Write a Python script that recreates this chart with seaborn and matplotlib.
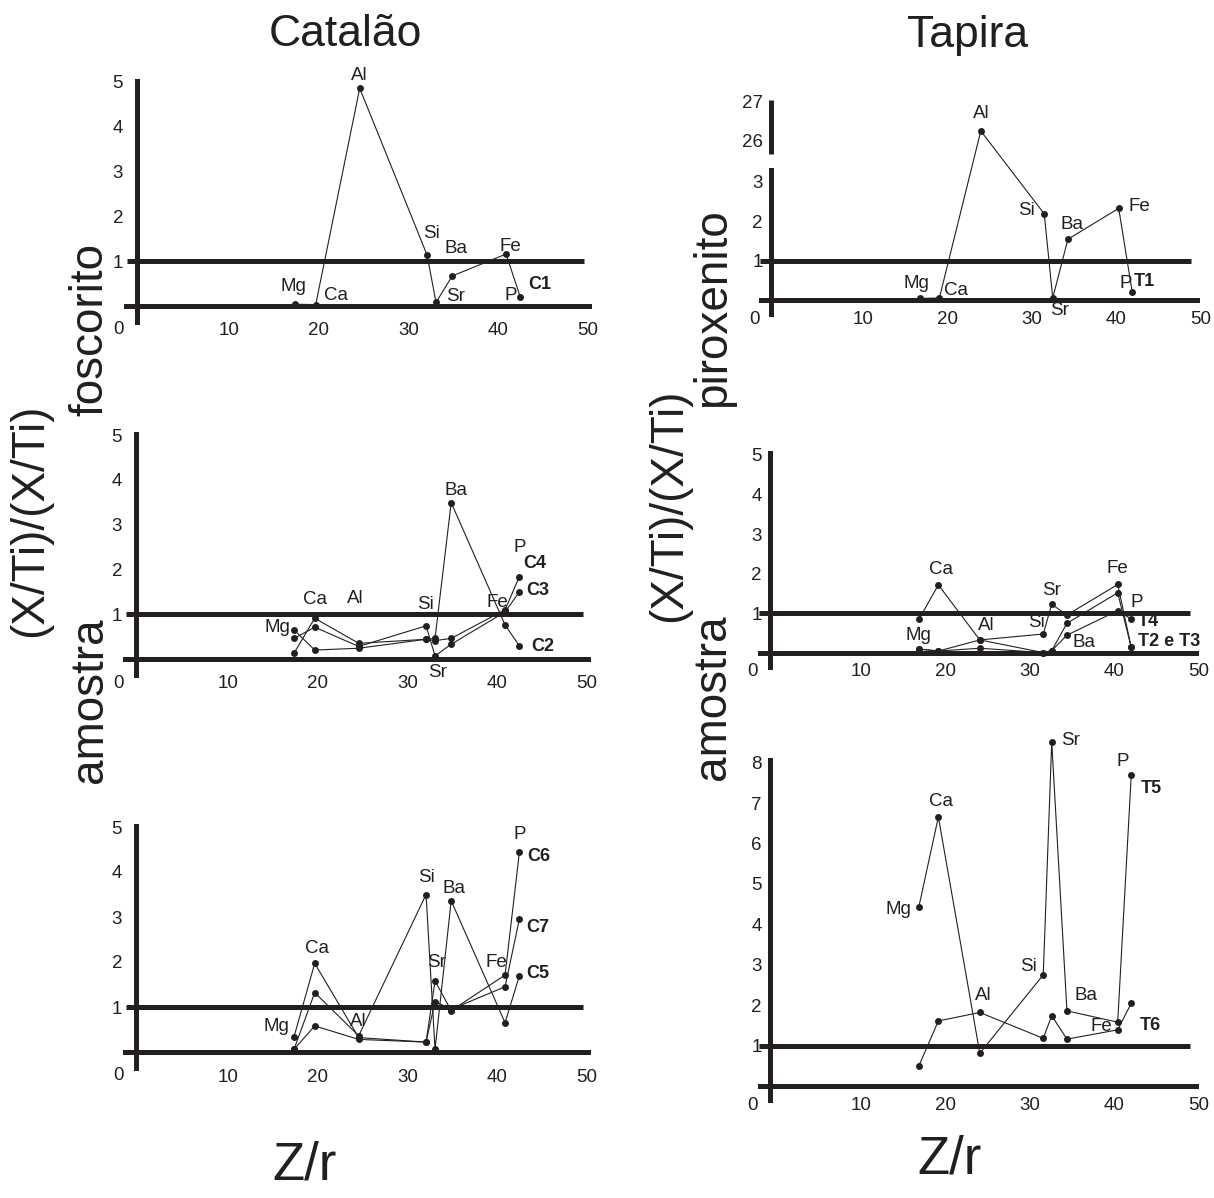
import matplotlib
matplotlib.use("Agg")
import matplotlib.pyplot as plt
import numpy as np
import pandas as pd
import seaborn as sns

# Z/r of each element (x axis)
ELEMENTS = ["Mg", "Ca", "Al", "Si", "Sr", "Ba", "Fe", "P"]
ZR = [17.6, 19.9, 24.8, 32.3, 33.3, 35.1, 41.1, 42.7]

# (X/Ti)sample / (X/Ti)rock, in element order
C1 = [0.04, 0.03, 4.86, 1.14, 0.08, 0.67, 1.16, 0.19]
C2 = [0.65, 0.20, 0.24, 0.44, 0.46, 3.49, 0.76, 0.29]
C3 = [0.46, 0.71, 0.28, 0.74, 0.07, 0.33, 1.05, 1.50]
C4 = [0.13, 0.91, 0.35, 0.44, 0.41, 0.46, 1.10, 1.84]
C5 = [0.06, 1.32, 0.36, 3.50, 0.06, 3.36, 0.65, 1.70]
C6 = [0.34, 1.97, 0.32, 0.22, 1.58, 0.92, 1.71, 4.45]
C7 = [0.06, 0.58, 0.28, 0.22, 1.12, 0.95, 1.45, 2.96]
T1 = [0.04, 0.05, 26.25, 2.18, 0.05, 1.54, 2.32, 0.20]
T2 = [0.10, 0.05, 0.33, 0.48, 1.23, 0.96, 1.73, 0.14]
T3 = [0.10, 0.05, 0.12, 0.01, 0.06, 0.75, 1.52, 0.14]
T4 = [0.85, 1.72, 0.33, 0.01, 0.06, 0.45, 1.07, 0.86]
T5 = [4.44, 6.66, 0.81, 2.75, 8.52, 1.86, 1.58, 7.69]
T6 = [0.50, 1.61, 1.82, 1.18, 1.74, 1.16, 1.39, 2.05]

XTICKS = [0, 10, 20, 30, 40, 50]
REF_LEVEL = 1

# broken y axis of the T1 panel (26-27 on top of 0-3)
BREAK_IN = [-50, 3.3, 25.67, 100]
BREAK_OUT = [-50, 3.3, 3.7, 78.03]

INK = "#231f20"
W, H = 1214, 1198
TICK_FS = 13.5
EL_FS = 13.5
SAMPLE_FS = 13

sns.set_theme(style="white")
plt.rcParams["font.family"] = ["Liberation Sans", "DejaVu Sans"]
plt.rcParams["text.color"] = INK
plt.rcParams["xtick.color"] = INK
plt.rcParams["ytick.color"] = INK


def fwd(v):
    return np.interp(v, BREAK_IN, BREAK_OUT)


def inv(v):
    return np.interp(v, BREAK_OUT, BREAK_IN)


def add_panel(fig, x0, sx, y0, sy, xlim, ylim_t):
    left = x0 + xlim[0] * sx
    right = x0 + xlim[1] * sx
    top = y0 - ylim_t[1] * sy
    bottom = y0 - ylim_t[0] * sy
    return fig.add_axes([left / W, 1 - bottom / H, (right - left) / W, (bottom - top) / H])


def draw_panel(ax, samples, names, yticks, spine_top, ylim, ref_span, ytick_len, ytick_pad,
               xlab_off, zero_off, el_labels, sample_labels, broken=False):
    rows = []
    for name, vals in zip(names, samples):
        for el, zr, v in zip(ELEMENTS, ZR, vals):
            rows.append({"amostra": name, "elemento": el, "zr": zr, "ratio": v})
    df = pd.DataFrame(rows)

    if broken:
        ax.set_yscale("function", functions=(fwd, inv))

    sns.lineplot(data=df, x="zr", y="ratio", units="amostra", estimator=None, sort=False,
                 color=INK, lw=0.8, marker="o", markersize=5, markeredgewidth=0,
                 legend=False, ax=ax, zorder=3)

    ax.set_xlim(-2.5, 51)
    ax.set_ylim(*ylim)
    ax.hlines(REF_LEVEL, ref_span[0], ref_span[1], color=INK, lw=3.6, zorder=2)

    for s in ["top", "right"]:
        ax.spines[s].set_visible(False)
    ax.spines["left"].set_position(("data", 0))
    ax.spines["bottom"].set_position(("data", 0))
    ax.spines["bottom"].set_bounds(-1.2, 50.3)
    if broken:
        ax.spines["left"].set_bounds(-0.35, BREAK_IN[1])
        ax.vlines(0, BREAK_IN[2], spine_top, color=INK, lw=3.6, clip_on=False)
    else:
        ax.spines["left"].set_bounds(-0.35, spine_top)
    for s in ["left", "bottom"]:
        ax.spines[s].set_linewidth(3.6)
        ax.spines[s].set_color(INK)

    ax.set_xticks(XTICKS)
    ax.set_xticklabels([])
    ax.set_yticks(yticks)
    ax.set_yticklabels([str(t) for t in yticks])
    ax.tick_params(axis="x", direction="out", length=9.5, width=3.6, pad=0)
    ax.tick_params(axis="y", direction="out", length=ytick_len, width=3.0, pad=ytick_pad,
                   labelsize=TICK_FS)
    ax.set_xlabel("")
    ax.set_ylabel("")
    ax.grid(False)

    for t in XTICKS:
        off = zero_off if t == 0 else xlab_off
        ax.annotate(str(t), (t, 0), xytext=off, textcoords="offset pixels",
                    ha="center", va="center", fontsize=TICK_FS, annotation_clip=False)

    for el, i, dx, dy in el_labels:
        k = ELEMENTS.index(el)
        ax.annotate(el, (ZR[k], samples[i][k]), xytext=(dx, dy), textcoords="offset pixels",
                    ha="center", va="center", fontsize=EL_FS, annotation_clip=False)
    kp = ELEMENTS.index("P")
    for txt, i, dx, dy in sample_labels:
        ax.annotate(txt, (ZR[kp], samples[i][kp]), xytext=(dx, dy), textcoords="offset pixels",
                    ha="left", va="center", fontsize=SAMPLE_FS, fontweight="bold",
                    annotation_clip=False)


fig = plt.figure(figsize=(W / 100, H / 100), dpi=100)

C_Y = [1, 2, 3, 4, 5]

ax = add_panel(fig, 137, 8.98, 306, 44.8, (-2.5, 51), (-0.5, 5.2))
draw_panel(ax, [C1], ["C1"], C_Y, 5.03, (-0.5, 5.2), (-1.1, 49.8), 7.5, 2.5,
           (2, -25), (-18, -24),
           [("Al", 0, 0, 13), ("Si", 0, 4, 21), ("Ba", 0, 4, 27), ("Fe", 0, 4, 8),
            ("Mg", 0, -2, 18), ("Ca", 0, 20, 9), ("Sr", 0, 20, 6), ("P", 0, -10, 2)],
           [("C1", 0, 8, 13)])

ax = add_panel(fig, 136, 8.98, 659, 44.8, (-2.5, 51), (-0.5, 5.2))
draw_panel(ax, [C2, C3, C4], ["C2", "C3", "C4"], C_Y, 5.03, (-0.5, 5.2), (-1.1, 49.8), 7.5, 2.5,
           (2, -25), (-18, -24),
           [("Ba", 0, 5, 12), ("P", 2, 0, 29), ("Ca", 2, 0, 19), ("Al", 2, -3, 45),
            ("Si", 1, -1, 21), ("Fe", 2, -8, 7), ("Mg", 0, -17, 2), ("Sr", 1, 3, -17)],
           [("C4", 2, 4, 13), ("C3", 1, 7, 1), ("C2", 0, 12, 0)])

ax = add_panel(fig, 136, 8.98, 1052, 45.0, (-2.5, 51), (-0.5, 5.2))
draw_panel(ax, [C5, C6, C7], ["C5", "C6", "C7"], C_Y, 5.03, (-0.5, 5.2), (-1.1, 49.8), 7.5, 2.5,
           (2, -25), (-18, -24),
           [("P", 1, 0, 17), ("Si", 0, 0, 17), ("Ba", 0, 3, 12), ("Ca", 1, 2, 15),
            ("Sr", 1, 2, 18), ("Fe", 1, -9, 13), ("Mg", 1, -18, 10), ("Al", 0, 0, 14)],
           [("C6", 1, 8, -5), ("C7", 2, 7, -9), ("C5", 0, 7, 2)])

ax = add_panel(fig, 771, 8.46, 300, 39.5, (-2.5, 51), (-0.5, 5.3))
draw_panel(ax, [T1], ["T1"], [1, 2, 3, 26, 27], 27.03, (inv(-0.5), inv(5.3)), (-1.3, 49.6),
           5.5, 0.5, (7, -20), (-17, -19),
           [("Al", 0, 0, 17), ("Si", 0, -18, 3), ("Ba", 0, 4, 15), ("Fe", 0, 21, 2),
            ("Mg", 0, -3, 15), ("Ca", 0, 17, 8), ("Sr", 0, 7, -12), ("P", 0, -6, 9)],
           [("T1", 0, 2, 11)], broken=True)

ax = add_panel(fig, 770, 8.46, 653, 39.6, (-2.5, 51), (-0.5, 5.2))
draw_panel(ax, [T2, T3, T4], ["T2", "T3", "T4"], [1, 2, 3, 4, 5], 5.05, (-0.5, 5.2),
           (-1.3, 49.6), 5.5, 0.5, (6, -19), (-17, -19),
           [("Ca", 2, 3, 15), ("Mg", 0, 0, 14), ("Al", 0, 6, 14), ("Si", 0, -7, 11),
            ("Sr", 0, 0, 14), ("Ba", 2, 17, -7), ("Fe", 0, 0, 16), ("P", 2, 6, 16)],
           [("T4", 2, 7, -3), ("T2 e T3", 0, 7, 6)])

ax = add_panel(fig, 770, 8.46, 1086, 40.4, (-2.5, 51), (-0.5, 8.7))
draw_panel(ax, [T5, T6], ["T5", "T6"], [1, 2, 3, 4, 5, 6, 7, 8], 8.07, (-0.5, 8.7),
           (-1.3, 49.6), 5.5, 0.5, (6, -19), (-17, -19),
           [("Sr", 0, 19, 1), ("P", 0, -8, 14), ("Ca", 0, 3, 15), ("Mg", 0, -20, -3),
            ("Si", 0, -15, 8), ("Al", 1, 3, 17), ("Ba", 0, 19, 15), ("Fe", 1, -16, 3)],
           [("T5", 0, 10, -13), ("T6", 1, 9, -22)])


def ftext(x, y, s, size, **kw):
    fig.text(x / W, 1 - y / H, s, ha="center", va="center", fontsize=size, **kw)


ftext(345, 35, "Catalão", 32)
ftext(968, 35, "Tapira", 32)
ftext(90, 330, "foscorito", 33, rotation=90)
ftext(30, 520, "(X/Ti)/(X/Ti)", 33, rotation=90)
ftext(90, 700, "amostra", 33, rotation=90)
ftext(713, 308, "piroxenito", 33, rotation=90)
ftext(669, 505, "(X/Ti)/(X/Ti)", 33, rotation=90)
ftext(713, 697, "amostra", 33, rotation=90)
ftext(305, 1165, "Z/r", 38, family=["Liberation Sans Narrow", "Liberation Sans", "DejaVu Sans"])
ftext(950, 1160, "Z/r", 38, family=["Liberation Sans Narrow", "Liberation Sans", "DejaVu Sans"])

fig.savefig("out.png", dpi=100, facecolor="white")
